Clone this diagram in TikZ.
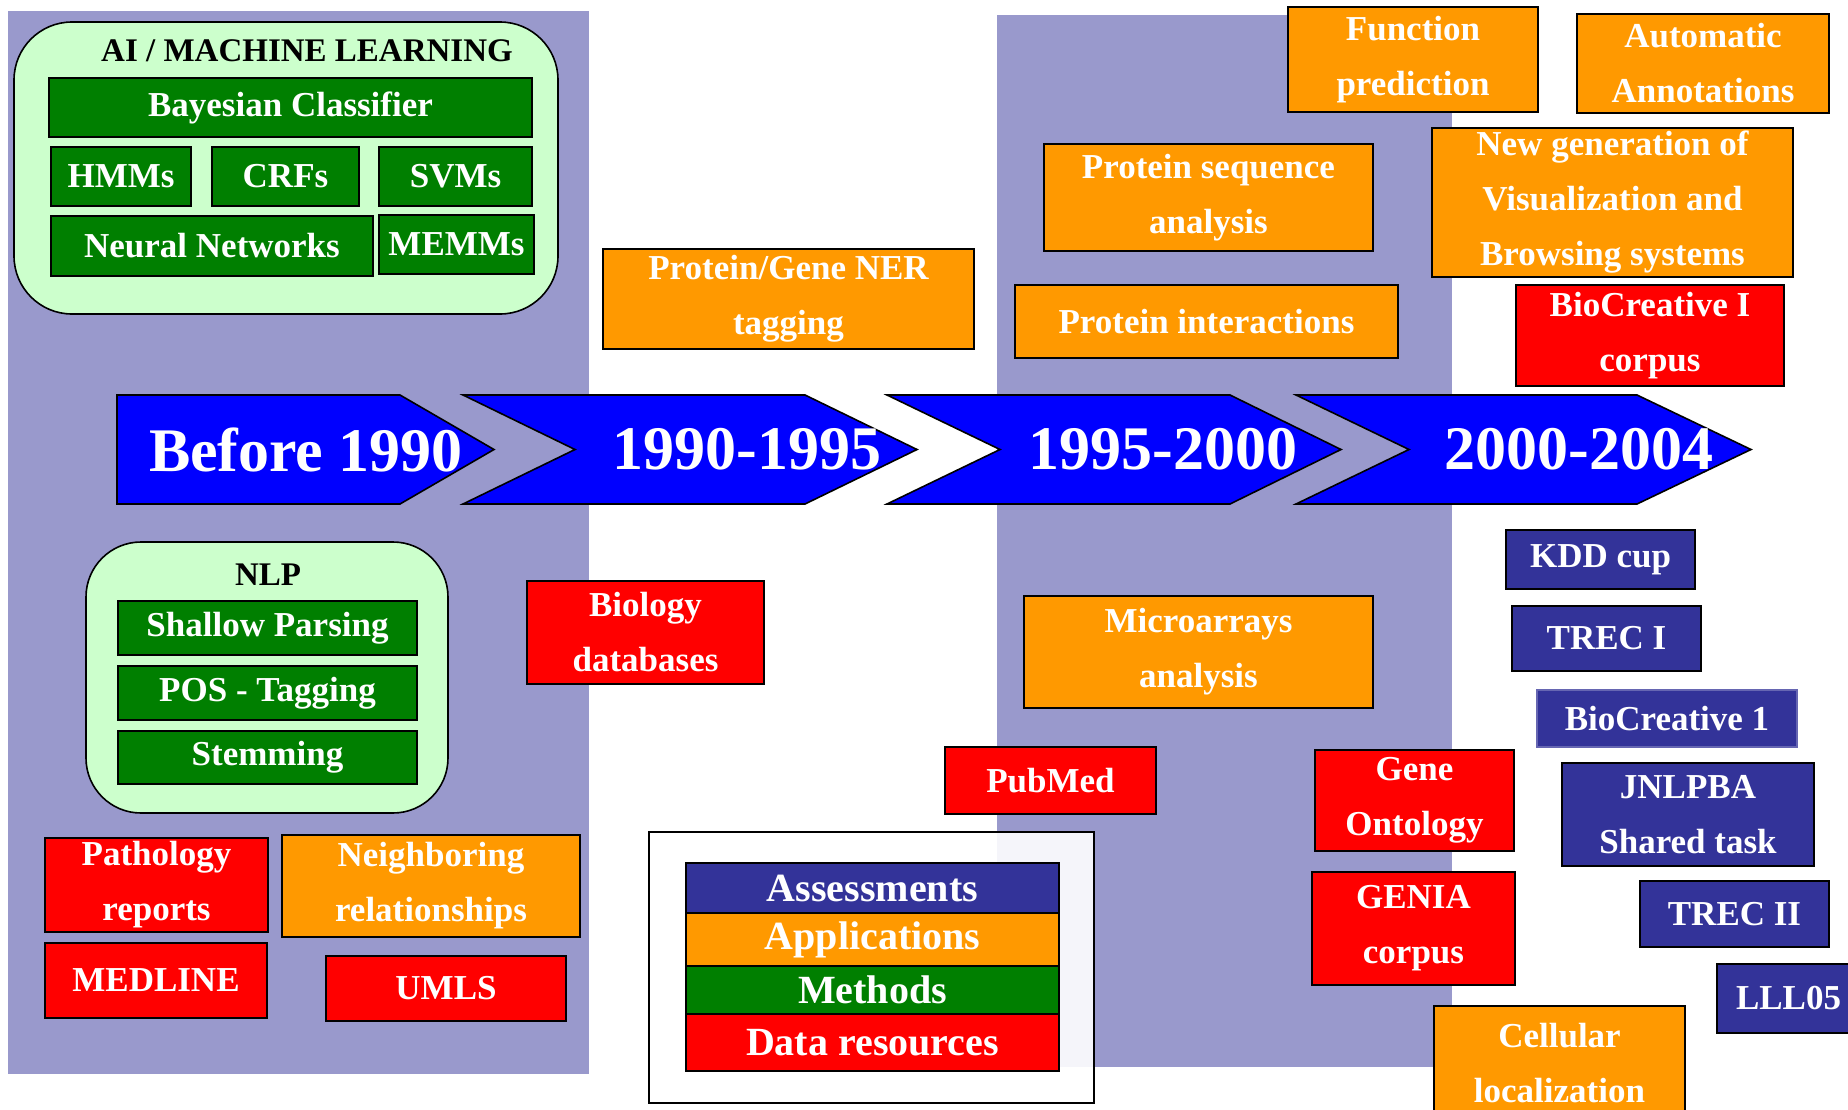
\documentclass[tikz,border=0pt]{standalone}
\usepackage{fontspec}
\setmainfont{Liberation Serif}
\usepackage{xcolor}
\usepackage{tikz}

\definecolor{bandpurple}{HTML}{9999CC}
\definecolor{lightgreen}{HTML}{CCFFCC}
\definecolor{arrowblue}{HTML}{0000FF}
\definecolor{methgreen}{HTML}{007F00}
\definecolor{appsorange}{HTML}{FF9900}
\definecolor{datared}{HTML}{FF0000}
\definecolor{assessblue}{HTML}{333399}

\newcommand{\itemfont}{\bfseries\fontsize{35}{55}\selectfont}
\newcommand{\yearfont}{\bfseries\fontsize{62}{70}\selectfont}
\newcommand{\legendfont}{\bfseries\fontsize{40}{44}\selectfont}
\newcommand{\panelfont}{\bfseries\fontsize{33}{40}\selectfont}

\begin{document}
\begin{tikzpicture}[x = 1pt, y = -1pt,
	box/.style = {draw = black, line width = 1.6pt, text = white, align = center, inner sep = 0pt, font = \itemfont},
	panel/.style = {draw = black, line width = 1.6pt, fill = lightgreen, rounded corners = 58pt},
	period/.style = {draw = black, line width = 1.6pt, fill = arrowblue}]
	\useasboundingbox (0, 0) rectangle (1848, 1109);
	\fill[bandpurple] (8, 11) rectangle (589, 1074);
	\fill[bandpurple] (997, 15) rectangle (1452, 1067);
	\node[panel, minimum width = 544, minimum height = 292] (ml) at (286, 168) {};
	\node[font = \panelfont] (mltitle) at (307, 51) {AI / MACHINE LEARNING};
	\node[panel, minimum width = 362, minimum height = 271, rounded corners = 55pt] (nlp) at (267, 677.5) {};
	\node[font = \panelfont] (nlptitle) at (268, 575) {NLP};
	\foreach \id/\xa/\ya/\xb/\yb/\txt in {bayes/49/78/532/137/Bayesian Classifier, hmm/51/147/191/206/HMMs, crf/212/147/359/206/CRFs, svm/379/147/532/206/SVMs, nn/51/216/373/276/Neural Networks, memm/379/215/534/274/MEMMs, shallow/118/601/417/655/Shallow Parsing, pos/118/666/417/720/POS - Tagging, stem/118/731/417/784/Stemming}{
		\node[box, fill = methgreen, minimum width = {\xb - \xa}, minimum height = {\yb - \ya}] (\id) at ({(\xa + \xb) / 2}, {(\ya + \yb) / 2}) {\txt};}
	\foreach \id/\xa/\ya/\xb/\yb/\txt in {patho/45/838/268/932/{Pathology\\reports}, medline/45/943/267/1018/MEDLINE, umls/326/956/566/1021/UMLS, biodb/527/581/764/684/{Biology\\databases}, pubmed/945/747/1156/814/PubMed, geneont/1315/750/1514/851/{Gene\\Ontology}, genia/1312/872/1515/985/{GENIA\\corpus}, biocorp/1516/285/1784/386/{BioCreative I\\corpus}}{
		\node[box, fill = datared, minimum width = {\xb - \xa}, minimum height = {\yb - \ya}] (\id) at ({(\xa + \xb) / 2}, {(\ya + \yb) / 2}) {\txt};}
	\foreach \id/\xa/\ya/\xb/\yb/\txt in {neigh/282/835/580/937/{Neighboring\\relationships}, ner/603/249/974/349/{Protein/Gene NER\\tagging}, seq/1044/144/1373/251/{Protein sequence\\analysis}, inter/1015/285/1398/358/Protein interactions, micro/1024/596/1373/708/{Microarrays\\analysis}, func/1288/7/1538/112/{Function\\prediction}, annot/1577/14/1829/113/{Automatic\\Annotations}, visu/1432/128/1793/277/{New generation of\\Visualization and\\Browsing systems}, cell/1434/1006/1685/1120/{Cellular\\localization}}{
		\node[box, fill = appsorange, minimum width = {\xb - \xa}, minimum height = {\yb - \ya}] (\id) at ({(\xa + \xb) / 2}, {(\ya + \yb) / 2}) {\txt};}
	\foreach \id/\xa/\ya/\xb/\yb/\txt in {kdd/1506/530/1695/589/KDD cup, trecone/1512/606/1701/671/TREC I, jnlpba/1562/763/1814/866/{JNLPBA\\Shared task}, trectwo/1640/881/1829/947/TREC II, lll/1717/964/1860/1033/LLL05}{
		\node[box, fill = assessblue, minimum width = {\xb - \xa}, minimum height = {\yb - \ya}] (\id) at ({(\xa + \xb) / 2}, {(\ya + \yb) / 2}) {\txt};}
	\node[box, fill = assessblue, draw = assessblue!75!white, minimum width = 260, minimum height = 57] (bcone) at (1667, 718.5) {BioCreative 1};
	\draw[period] (117, 395) -- (400, 395) -- (494, 449.5) -- (400, 504) -- (117, 504) -- cycle;
	\foreach \xl/\xn/\xc/\xt in {463/575/805/917, 887/1000/1230/1341, 1296/1409/1637/1751}{
		\draw[period] (\xl, 395) -- (\xc, 395) -- (\xt, 449.5) -- (\xc, 504) -- (\xl, 504) -- (\xn, 449.5) -- cycle;}
	\foreach \id/\x/\txt in {before/306/Before 1990, early/747/1990-1995, late/1163/1995-2000, recent/1579/2000-2004}{
		\node[text = white, font = \yearfont] (\id) at (\x, 449.5) {\txt};}
	\node[draw = black, line width = 1.6pt, fill = white, fill opacity = 0.9, minimum width = 445, minimum height = 271] (legend) at (871.5, 967.5) {};
	\foreach \id/\ya/\yb/\col/\txt in {lassess/863/913/assessblue/Assessments, lapps/913/966/appsorange/Applications, lmeth/966/1014/methgreen/Methods, ldata/1014/1071/datared/Data resources}{
		\node[box, font = \legendfont, fill = \col, minimum width = 373, minimum height = {\yb - \ya}] (\id) at (872.5, {(\ya + \yb) / 2}) {\txt};}
\end{tikzpicture}
\end{document}
